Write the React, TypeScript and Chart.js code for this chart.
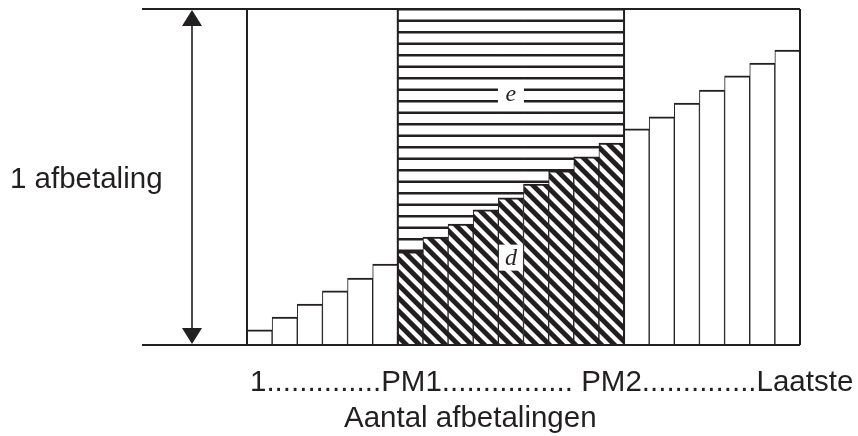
import React, { useEffect, useRef } from 'react';
import { Chart, registerables } from 'chart.js';

Chart.register(...registerables);

// ---- data ----
const categories = ['1', '2', '3', '4', '5', '6', '7', '8', '9', '10', '11', '12', '13', '14', '15', '16', '17', '18', '19', '20', '21', '22'];
// part "d" (aflossing) of each payment, as % of one payment
const principalValues = [4.5, 8.3, 12.2, 16.1, 19.9, 24.1, 27.7, 32.1, 36.0, 40.2, 43.8, 47.9, 51.8, 56.0, 60.1, 64.3, 67.9, 72.0, 75.9, 80.1, 83.9, 87.8];
// part "e" (rente) of each payment between PM1 and PM2
const interestValues = [null, null, null, null, null, null, 72.3, 67.9, 64.0, 59.8, 56.2, 52.1, 48.2, 44.0, 39.9, null, null, null, null, null, null, null];
const periodFirstIndex = 6;
const periodLastIndex = 14;
const paymentMax = 100;
const xTickLabels = ['1', 'PM1', 'PM2', 'Laatste'];
const xTickSeparators = ['..............', '................ ', '..............'];
const xAxisLabel = 'Aantal afbetalingen';
const yAxisLabel = '1 afbetaling';
const regionLabels = ['e', 'd'];
const regionLabelValues = [74, 26];

const INK = '#231f20';

function makeHorizontalHatch(): CanvasPattern | string {
  const c = document.createElement('canvas');
  c.width = 8;
  c.height = 23;
  const g = c.getContext('2d');
  if (!g) return '#fff';
  g.fillStyle = '#fff';
  g.fillRect(0, 0, 8, 23);
  g.fillStyle = INK;
  g.fillRect(0, 8.0, 8, 2.5);
  g.fillRect(0, 19.5, 8, 2.5);
  const p = g.createPattern(c, 'repeat');
  return p || '#fff';
}

function makeDiagonalHatch(): CanvasPattern | string {
  const P = 13;
  const c = document.createElement('canvas');
  c.width = P;
  c.height = P;
  const g = c.getContext('2d');
  if (!g) return '#000';
  const img = g.createImageData(P, P);
  const S = 4;
  for (let y = 0; y < P; y++) {
    for (let x = 0; x < P; x++) {
      let cov = 0;
      for (let sy = 0; sy < S; sy++) {
        for (let sx = 0; sx < S; sx++) {
          const fx = x + (sx + 0.5) / S;
          const fy = y + (sy + 0.5) / S;
          const v = (((fy - fx) % P) + P) % P;
          if (v < P * 0.52) cov++;
        }
      }
      const a = cov / (S * S);
      const k = (i: number) => Math.round(255 * (1 - a) + i * a);
      const o = (y * P + x) * 4;
      img.data[o] = k(0x23);
      img.data[o + 1] = k(0x1f);
      img.data[o + 2] = k(0x20);
      img.data[o + 3] = 255;
    }
  }
  g.putImageData(img, 0, 0);
  const p = g.createPattern(c, 'repeat');
  return p || '#000';
}

const overlayPlugin = {
  id: 'overlay',
  afterDatasetsDraw(chart: any) {
    const { ctx, chartArea, scales } = chart;
    const y = scales.y;
    const meta = chart.getDatasetMeta(0);
    const el = (i: number) => meta.data[i] as any;
    const edgeL = (i: number) => el(i).x - el(i).width / 2;
    const edgeR = (i: number) => el(i).x + el(i).width / 2;
    const top = y.getPixelForValue(paymentMax);
    const base = y.getPixelForValue(0);
    const last = categories.length - 1;
    const lineStart = chartArea.left - 105;
    const arrowX = chartArea.left - 55;

    ctx.save();
    ctx.strokeStyle = INK;
    ctx.fillStyle = INK;

    // frame lines
    ctx.lineWidth = 2;
    ctx.beginPath();
    ctx.moveTo(lineStart, top);
    ctx.lineTo(edgeR(last), top);
    ctx.moveTo(lineStart, base);
    ctx.lineTo(edgeR(last), base);
    ctx.stroke();
    ctx.beginPath();
    for (const xv of [edgeL(0), edgeL(periodFirstIndex), edgeR(periodLastIndex), edgeR(last)]) {
      ctx.moveTo(xv, top);
      ctx.lineTo(xv, base);
    }
    ctx.stroke();

    // double arrow
    ctx.lineWidth = 1.6;
    ctx.beginPath();
    ctx.moveTo(arrowX, top + 10);
    ctx.lineTo(arrowX, base - 10);
    ctx.stroke();
    ctx.beginPath();
    ctx.moveTo(arrowX, top + 1);
    ctx.lineTo(arrowX + 10, top + 17);
    ctx.lineTo(arrowX - 10, top + 17);
    ctx.closePath();
    ctx.fill();
    ctx.beginPath();
    ctx.moveTo(arrowX, base - 1);
    ctx.lineTo(arrowX + 10, base - 17);
    ctx.lineTo(arrowX - 10, base - 17);
    ctx.closePath();
    ctx.fill();

    // region labels with white boxes
    const cx = (edgeL(periodFirstIndex) + edgeR(periodLastIndex)) / 2;
    const boxes = [
      { w: 26, h: 18 },
      { w: 24, h: 26 },
    ];
    ctx.font = 'italic 24px "Liberation Serif", "DejaVu Serif", serif';
    ctx.textAlign = 'center';
    ctx.textBaseline = 'alphabetic';
    regionLabels.forEach((t, i) => {
      const cy = y.getPixelForValue(regionLabelValues[i]);
      ctx.fillStyle = '#fff';
      ctx.fillRect(cx - boxes[i].w / 2, cy - boxes[i].h / 2, boxes[i].w, boxes[i].h);
      ctx.fillStyle = INK;
      ctx.fillText(t, cx, cy + (i === 0 ? 5 : 7));
    });

    // texts
    ctx.fillStyle = INK;
    ctx.font = '29.5px "Liberation Sans", Arial, sans-serif';
    ctx.textAlign = 'left';
    ctx.fillText(yAxisLabel, 10, (top + base) / 2 + 11);

    let row = xTickLabels[0];
    for (let i = 1; i < xTickLabels.length; i++) row += xTickSeparators[i - 1] + xTickLabels[i];
    ctx.fillText(row, edgeL(0) + 3, base + 46);
    ctx.fillText(xAxisLabel, chartArea.left + 97, base + 82);
    ctx.restore();
  },
};

export default function App() {
  const ref = useRef<HTMLCanvasElement | null>(null);
  useEffect(() => {
    document.body.style.margin = '0';
    const canvas = ref.current;
    if (!canvas) return;
    const diag = makeDiagonalHatch();
    const horiz = makeHorizontalHatch();
    const chart = new Chart(canvas, {
      type: 'bar',
      data: {
        labels: categories,
        datasets: [
          {
            label: 'd',
            data: principalValues,
            backgroundColor: (c: any) =>
              c.dataIndex >= periodFirstIndex && c.dataIndex <= periodLastIndex ? diag : '#ffffff',
            borderColor: INK,
            borderWidth: { top: 2, left: 1, right: 1, bottom: 0 } as any,
            borderSkipped: false as any,
            categoryPercentage: 1,
            barPercentage: 1,
          },
          {
            label: 'e',
            data: interestValues as any,
            backgroundColor: horiz as any,
            borderWidth: 0,
            categoryPercentage: 1,
            barPercentage: 1,
          },
        ],
      },
      options: {
        responsive: false,
        animation: false,
        devicePixelRatio: 1,
        layout: { padding: { left: 247, right: 58, top: 9, bottom: 91 } },
        plugins: { legend: { display: false }, tooltip: { enabled: false }, title: { display: false } },
        scales: {
          x: { display: false, stacked: true, offset: true },
          y: { display: false, stacked: true, min: 0, max: paymentMax },
        },
      },
      plugins: [overlayPlugin],
    });
    return () => chart.destroy();
  }, []);
  return (
    <div style={{ position: 'absolute', left: 0, top: 0, width: 858, height: 436, background: '#fff' }}>
      <canvas ref={ref} width={858} height={436} style={{ display: 'block', width: 858, height: 436 }} />
    </div>
  );
}
